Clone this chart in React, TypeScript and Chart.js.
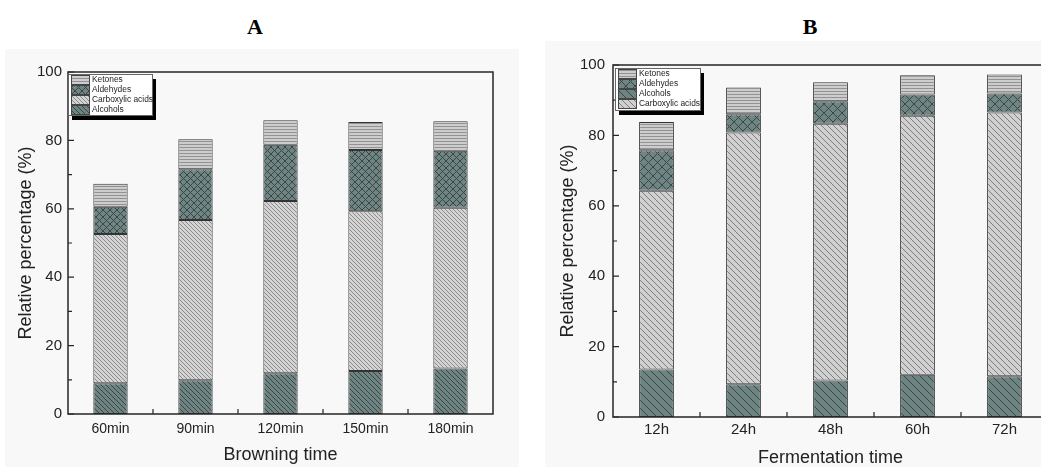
import React, { useEffect, useRef } from "react";
import { Chart, registerables } from "chart.js";
Chart.register(...registerables);

// ---------- data ----------
const categoriesA = ["60min", "90min", "120min", "150min", "180min"];
const alcoholsA = [9.0, 9.9, 11.9, 12.6, 13.3];
const carboxylicA = [43.6, 46.8, 50.4, 46.7, 47.0];
const aldehydesA = [8.0, 14.9, 16.4, 17.9, 16.7];
const ketonesA = [6.7, 8.7, 7.2, 8.2, 8.6];

const categoriesB = ["12h", "24h", "48h", "60h", "72h"];
const alcoholsB = [13.5, 9.3, 10.4, 12.0, 11.6];
const carboxylicB = [50.8, 71.5, 72.9, 73.6, 74.9];
const aldehydesB = [11.5, 5.2, 6.4, 6.0, 5.4];
const ketonesB = [8.0, 7.6, 5.4, 5.5, 5.4];

const legendOrderA = ["Ketones", "Aldehydes", "Carboxylic acids", "Alcohols"];
const legendOrderB = ["Ketones", "Aldehydes", "Alcohols", "Carboxylic acids"];

const FONT = "'Liberation Sans', Arial, sans-serif";

type PatSpec = { kind: "h" | "d" | "x"; size: number; bg: string; fg: string };

function makePattern(ctx: CanvasRenderingContext2D, p: PatSpec): CanvasPattern | string {
  const c = document.createElement("canvas");
  c.width = p.size;
  c.height = p.size;
  const g = c.getContext("2d");
  if (!g) return p.bg;
  g.fillStyle = p.bg;
  g.fillRect(0, 0, c.width, c.height);
  g.fillStyle = p.fg;
  if (p.kind === "h") {
    g.fillRect(0, p.size - 1, c.width, 1);
  } else {
    for (let i = 0; i < p.size; i++) {
      g.fillRect(i, i, 1, 1);
      if (p.kind === "x") g.fillRect(p.size - 1 - i, i, 1, 1);
    }
  }
  return ctx.createPattern(c, "repeat") || p.bg;
}

type PanelProps = {
  cats: string[];
  alc: number[];
  carb: number[];
  ald: number[];
  ket: number[];
  legendOrder: string[];
  xTitle: string;
  width: number;
  height: number;
  pad: { left: number; right: number; top: number; bottom: number };
  yWidth: number;
  xHeight: number;
  xTickFont: number;
  yTickFont: number;
  xTickPad: number;
  yTickPad: number;
  yTitlePad: number;
  xTitlePad: number;
  barPct: number;
  legend: { x: number; y: number; w: number; h: number; rowTop: number; rowH: number };
  pats: { ket: PatSpec; ald: PatSpec; carb: PatSpec; alc: PatSpec };
};

function StackPanel(props: PanelProps) {
  const ref = useRef<HTMLCanvasElement | null>(null);
  useEffect(() => {
    const canvas = ref.current;
    if (!canvas) return;
    const ctx = canvas.getContext("2d");
    if (!ctx) return;
    const n = props.cats.length;
    const lg = props.legend;
    const decor = {
      id: "decor",
      afterDatasetsDraw(chart: any) {
        const c = chart.ctx as CanvasRenderingContext2D;
        const a = chart.chartArea;
        const x = chart.scales.x;
        const y = chart.scales.y;
        c.save();
        c.strokeStyle = "#262626";
        c.lineWidth = 1.5;
        c.strokeRect(a.left, a.top, a.right - a.left, a.bottom - a.top);
        c.lineWidth = 1.2;
        c.beginPath();
        for (let v = 0; v <= 100; v += 10) {
          const py = y.getPixelForValue(v);
          const len = v % 20 === 0 ? 6 : 4;
          c.moveTo(a.left, py);
          c.lineTo(a.left + len, py);
        }
        for (let i = 1; i < n; i++) {
          const px = (x.getPixelForValue(i - 1) + x.getPixelForValue(i)) / 2;
          c.moveTo(px, a.bottom);
          c.lineTo(px, a.bottom - 5);
        }
        c.stroke();

        // legend with drop shadow
        c.fillStyle = "#000";
        c.fillRect(lg.x + 4, lg.y + 5, lg.w, lg.h);
        c.fillStyle = "#fff";
        c.fillRect(lg.x, lg.y, lg.w, lg.h);
        c.strokeStyle = "#666";
        c.lineWidth = 1;
        c.strokeRect(lg.x + 0.5, lg.y + 0.5, lg.w, lg.h);
        c.font = `8.4px ${FONT}`;
        c.textBaseline = "middle";
        c.textAlign = "left";
        props.legendOrder.forEach((name, i) => {
          const ds = chart.data.datasets.find((d: any) => d.label === name);
          if (!ds) return;
          const top = lg.rowTop + i * lg.rowH;
          c.fillStyle = ds.backgroundColor;
          c.fillRect(lg.x + 3, top + 0.5, 18, lg.rowH - 1);
          c.strokeStyle = "#444";
          c.strokeRect(lg.x + 3.5, top + 0.5, 18, lg.rowH - 1);
          c.fillStyle = "#222";
          c.fillText(name, lg.x + 24, top + lg.rowH / 2);
        });
        c.restore();
      },
    };

    const mk = (label: string, data: number[], p: PatSpec) => ({
      label,
      data,
      backgroundColor: makePattern(ctx, p),
      borderColor: "#333",
      borderWidth: 1,
      borderSkipped: false,
      barPercentage: props.barPct,
      categoryPercentage: 1,
    });

    const chart = new Chart(canvas, {
      type: "bar",
      data: {
        labels: props.cats,
        datasets: [
          mk("Alcohols", props.alc, props.pats.alc),
          mk("Carboxylic acids", props.carb, props.pats.carb),
          mk("Aldehydes", props.ald, props.pats.ald),
          mk("Ketones", props.ket, props.pats.ket),
        ] as any,
      },
      options: {
        responsive: false,
        animation: false,
        devicePixelRatio: 1,
        layout: { padding: props.pad },
        plugins: { legend: { display: false }, tooltip: { enabled: false } },
        scales: {
          x: {
            stacked: true,
            offset: true,
            grid: { display: false, drawTicks: false },
            border: { display: false },
            ticks: { color: "#222", font: { family: FONT, size: props.xTickFont }, padding: props.xTickPad, maxRotation: 0 },
            title: {
              display: true,
              text: props.xTitle,
              color: "#222",
              font: { family: FONT, size: 18, lineHeight: 1 },
              padding: { top: 0, bottom: props.xTitlePad },
            },
            afterFit: (s: any) => {
              s.height = props.xHeight;
            },
          },
          y: {
            stacked: true,
            min: 0,
            max: 100,
            grid: { display: false, drawTicks: false },
            border: { display: false },
            ticks: { stepSize: 20, color: "#222", font: { family: FONT, size: props.yTickFont }, padding: props.yTickPad },
            title: {
              display: true,
              text: "Relative percentage (%)",
              color: "#222",
              font: { family: FONT, size: 18, lineHeight: 1 },
              padding: { top: props.yTitlePad, bottom: 0 },
            },
            afterFit: (s: any) => {
              s.width = props.yWidth;
            },
          },
        },
      } as any,
      plugins: [decor],
    });
    return () => chart.destroy();
  }, []);
  return <canvas ref={ref} width={props.width} height={props.height} style={{ display: "block" }} />;
}

export default function App() {
  const titleStyle: React.CSSProperties = {
    position: "absolute",
    width: 100,
    top: 15,
    height: 24,
    lineHeight: "24px",
    textAlign: "center",
    fontFamily: "'Liberation Serif', 'DejaVu Serif', serif",
    fontWeight: "bold",
    fontSize: 22,
    color: "#000",
  };
  return (
    <div style={{ position: "absolute", left: 0, top: 0, width: 1041, height: 467, background: "#fff", overflow: "hidden" }}>
      <div style={{ ...titleStyle, left: 205 }}>A</div>
      <div style={{ ...titleStyle, left: 760 }}>B</div>
      <div style={{ position: "absolute", left: 5, top: 49, width: 514, height: 418, background: "#f8f8f8", overflow: "hidden" }}>
        <StackPanel
          cats={categoriesA}
          alc={alcoholsA}
          carb={carboxylicA}
          ald={aldehydesA}
          ket={ketonesA}
          legendOrder={legendOrderA}
          xTitle="Browning time"
          width={514}
          height={418}
          pad={{ left: 0, right: 26, top: 23, bottom: 0 }}
          yWidth={63}
          xHeight={53}
          xTickFont={14}
          yTickFont={15}
          xTickPad={7}
          yTickPad={6}
          yTitlePad={12}
          xTitlePad={3}
          barPct={0.404}
          legend={{ x: 63, y: 25, w: 84, h: 41, rowTop: 26, rowH: 10 }}
          pats={{
            ket: { kind: "h", size: 3, bg: "#cdcdcd", fg: "#929292" },
            ald: { kind: "x", size: 7, bg: "#6f8584", fg: "#3b4747" },
            carb: { kind: "d", size: 4, bg: "#d4d4d4", fg: "#8a8a8a" },
            alc: { kind: "d", size: 5, bg: "#6e8483", fg: "#3a4646" },
          }}
        />
      </div>
      <div style={{ position: "absolute", left: 545, top: 41, width: 496, height: 426, background: "#f8f8f8", overflow: "hidden" }}>
        <StackPanel
          cats={categoriesB}
          alc={alcoholsB}
          carb={carboxylicB}
          ald={aldehydesB}
          ket={ketonesB}
          legendOrder={legendOrderB}
          xTitle="Fermentation time"
          width={520}
          height={426}
          pad={{ left: 0, right: 17, top: 24, bottom: 0 }}
          yWidth={68}
          xHeight={50}
          xTickFont={15}
          yTickFont={15}
          xTickPad={4}
          yTickPad={8}
          yTitlePad={14}
          xTitlePad={0}
          barPct={0.4}
          legend={{ x: 70, y: 27, w: 85, h: 42, rowTop: 28, rowH: 10 }}
          pats={{
            ket: { kind: "h", size: 3, bg: "#cdcdcd", fg: "#929292" },
            ald: { kind: "x", size: 9, bg: "#6f8584", fg: "#3b4747" },
            carb: { kind: "d", size: 6, bg: "#d0d0d0", fg: "#7e7e7e" },
            alc: { kind: "d", size: 8, bg: "#6e8483", fg: "#3a4646" },
          }}
        />
      </div>
    </div>
  );
}
